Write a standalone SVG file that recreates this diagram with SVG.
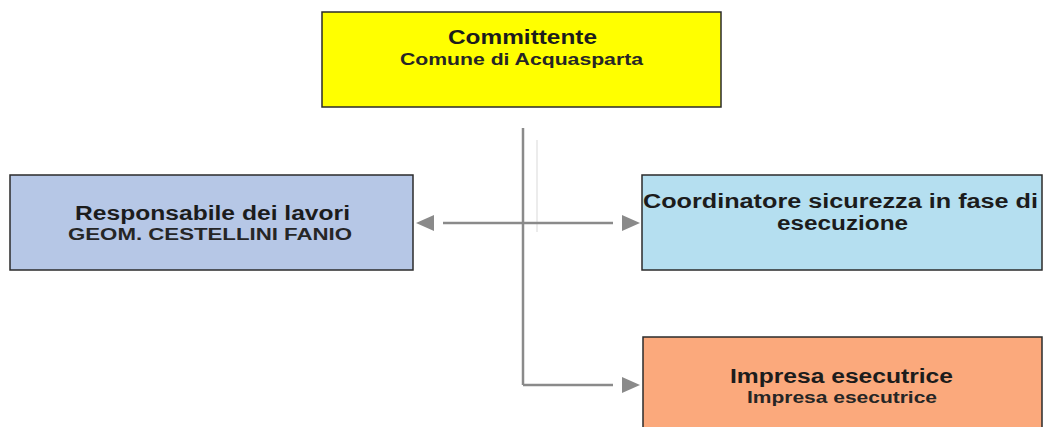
<svg xmlns="http://www.w3.org/2000/svg" width="1045" height="427" viewBox="0 0 1045 427">
<style>
.box{stroke:#2b2b2b;stroke-width:1.5}
.t{font-family:"Liberation Sans",Arial,sans-serif;font-weight:bold;font-size:20px;fill:#1c1c1c}
.s{font-family:"Liberation Sans",Arial,sans-serif;font-weight:bold;font-size:16px;fill:#262626}
.c{fill:none;stroke:#8a8a8a;stroke-width:2.5}
</style>
<defs>
<marker id="arr" viewBox="0 0 18 16" refX="18" refY="8" markerWidth="18" markerHeight="16" orient="auto" markerUnits="userSpaceOnUse">
<path d="M0,0 L18,8 L0,16 z" fill="#8a8a8a"/>
</marker>
</defs>
<rect width="1045" height="427" fill="#ffffff"/>
<g id="connectors">
<line class="c" x1="523" y1="128" x2="523" y2="385"/>
<line x1="537" y1="140" x2="537" y2="232" stroke="#ececec" stroke-width="2"/>
<line class="c" x1="523" y1="223" x2="416" y2="223" stroke-dasharray="80 28 200" marker-end="url(#arr)"/>
<line class="c" x1="523" y1="223" x2="640" y2="223" stroke-dasharray="90 200" marker-end="url(#arr)"/>
<polyline class="c" points="523,385 613,385"/>
<line x1="612" y1="385" x2="640" y2="385" stroke="none" marker-end="url(#arr)"/>
</g>
<g id="committente">
<rect class="box" x="322" y="12" width="399" height="95" fill="#ffff00"/>
<text class="t" x="448" y="44" textLength="149" lengthAdjust="spacingAndGlyphs">Committente</text>
<text class="s" x="400" y="65" textLength="243" lengthAdjust="spacingAndGlyphs">Comune di Acquasparta</text>
</g>
<g id="responsabile">
<rect class="box" x="10" y="175" width="403" height="95" fill="#b6c7e6"/>
<text class="t" x="75" y="220" textLength="275" lengthAdjust="spacingAndGlyphs">Responsabile dei lavori</text>
<text class="s" x="68" y="240" textLength="284" lengthAdjust="spacingAndGlyphs">GEOM. CESTELLINI FANIO</text>
</g>
<g id="coordinatore">
<rect class="box" x="642" y="175" width="400" height="95" fill="#b5dff0"/>
<text class="t" x="643" y="208" textLength="395" lengthAdjust="spacingAndGlyphs">Coordinatore sicurezza in fase di</text>
<text class="t" x="777" y="230" textLength="131" lengthAdjust="spacingAndGlyphs">esecuzione</text>
</g>
<g id="impresa">
<rect class="box" x="643" y="337" width="399" height="110" fill="#fba97c"/>
<text class="t" x="730" y="383" textLength="223" lengthAdjust="spacingAndGlyphs">Impresa esecutrice</text>
<text class="s" x="747" y="403" textLength="190" lengthAdjust="spacingAndGlyphs">Impresa esecutrice</text>
</g>
</svg>
